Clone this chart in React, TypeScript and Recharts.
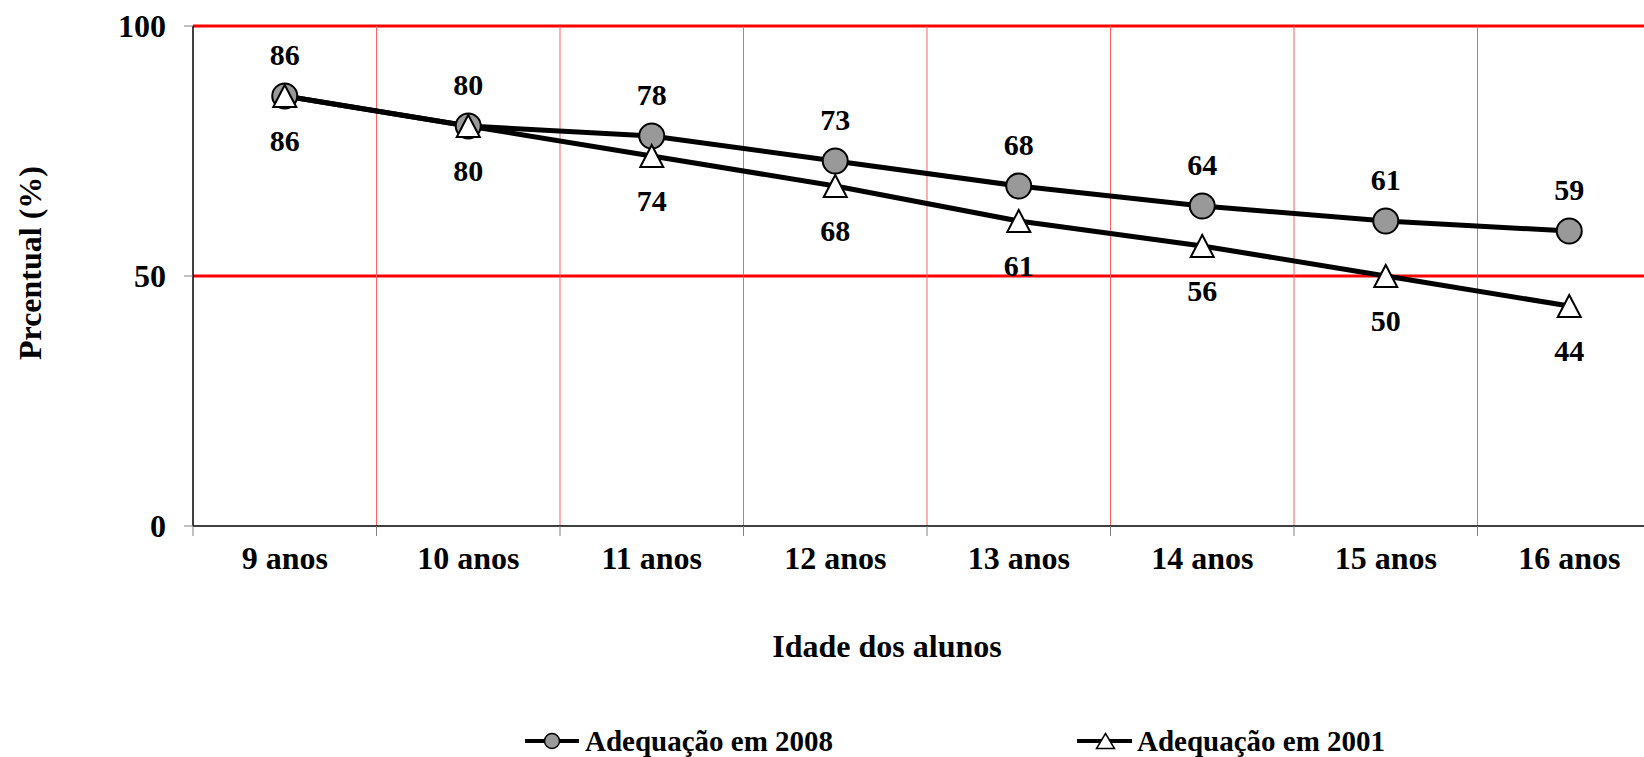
import { LineChart, Line, XAxis, YAxis, CartesianGrid, LabelList, Legend } from 'recharts';

const categories = ['9 anos', '10 anos', '11 anos', '12 anos', '13 anos', '14 anos', '15 anos', '16 anos'];
const adequacao2008 = [86, 80, 78, 73, 68, 64, 61, 59];
const adequacao2001 = [86, 80, 74, 68, 61, 56, 50, 44];
const yTicks = [0, 50, 100];

// each category sits in the middle of its band: 0.5, 1.5, ...
const data = categories.map((name, i) => ({
  name,
  pos: i + 0.5,
  a2008: adequacao2008[i],
  a2001: adequacao2001[i],
}));
const centerTicks = categories.map((_, i) => i + 0.5);
const boundaryTicks = [...categories.map((_, i) => i), categories.length];
const innerBoundaries = boundaryTicks.slice(1, -1);

const FONT = '"Liberation Serif", "Times New Roman", serif';
const textProps = { fontFamily: FONT, fontWeight: 'bold', fontSize: 32, fill: '#000' };
const valueLabelProps = { fontFamily: FONT, fontWeight: 'bold', fontSize: 30, fill: '#000' };

const TriangleDot = (props: any) => {
  const { cx, cy, index } = props;
  if (cx == null || cy == null) return <g key={`t-${index}`} />;
  return (
    <polygon
      key={`t-${index}`}
      points={`${cx},${cy - 11} ${cx + 11.5},${cy + 11} ${cx - 11.5},${cy + 11}`}
      fill="#ffffff"
      stroke="#000000"
      strokeWidth={2}
    />
  );
};

const CategoryTick = (props: any) => {
  const { x, y, payload } = props;
  return (
    <text x={x} y={y + 42} textAnchor="middle" {...textProps}>
      {categories[Math.floor(payload.value)]}
    </text>
  );
};

const NoTickText = () => <g />;

// red grid: heavy horizontal lines, thin vertical band separators
const hLine = (p: any) => (
  <line key={p.key ?? `h-${p.index}`} x1={p.x1} y1={p.y1} x2={p.x2} y2={p.y2} stroke="#ff0000" strokeWidth={3} />
);
const vLine = (p: any) => (
  <line key={p.key ?? `v-${p.index}`} x1={p.x1} y1={p.y1} x2={p.x2} y2={p.y2} stroke="#ff6060" strokeWidth={1} />
);

// values above the 2008 points, below the 2001 points
const labelAbove = (props: any) => (
  <text x={props.x} y={props.y - 31} textAnchor="middle" {...valueLabelProps}>
    {props.value}
  </text>
);
const labelBelow = (props: any) => (
  <text x={props.x} y={props.y + 55} textAnchor="middle" {...valueLabelProps}>
    {props.value}
  </text>
);

const LegendContent = () => (
  <div
    style={{
      display: 'flex',
      alignItems: 'center',
      fontFamily: FONT,
      fontWeight: 'bold',
      fontSize: 29,
      lineHeight: '36px',
      color: '#000',
    }}
  >
    <div style={{ display: 'flex', alignItems: 'center', width: 552 }}>
      <svg width={54} height={20}>
        <line x1={0} y1={10} x2={54} y2={10} stroke="#000" strokeWidth={4} />
        <circle cx={27} cy={10} r={7.5} fill="#999999" stroke="#000" strokeWidth={1.5} />
      </svg>
      <span style={{ marginLeft: 6, whiteSpace: 'nowrap' }}>Adequação em 2008</span>
    </div>
    <div style={{ display: 'flex', alignItems: 'center' }}>
      <svg width={55} height={20}>
        <line x1={0} y1={10} x2={55} y2={10} stroke="#000" strokeWidth={4} />
        <polygon points="28.5,2.5 37.5,17.5 19.5,17.5" fill="#fff" stroke="#000" strokeWidth={1.5} />
      </svg>
      <span style={{ marginLeft: 5, whiteSpace: 'nowrap' }}>Adequação em 2001</span>
    </div>
  </div>
);

export default function App() {
  return (
    <div style={{ position: 'fixed', left: 0, top: 0, width: 1644, height: 757, overflow: 'hidden', background: '#fff' }}>
      <LineChart
        width={1670}
        height={757}
        data={data}
        margin={{ top: 26, right: 9, left: 0, bottom: 0 }}
      >
        <CartesianGrid
          horizontalValues={[50, 100]}
          verticalValues={innerBoundaries}
          horizontal={hLine}
          vertical={vLine}
        />
        {/* category names, centred in each band */}
        <XAxis
          xAxisId="labels"
          dataKey="pos"
          type="number"
          domain={[0, categories.length]}
          ticks={centerTicks}
          tick={<CategoryTick />}
          tickLine={false}
          axisLine={false}
          tickSize={0}
          tickMargin={0}
          interval={0}
          height={194}
          label={(props: any) => {
            const vb = props.viewBox;
            return (
              <text x={vb.x + vb.width / 2 - 40} y={vb.y + 130} textAnchor="middle" {...textProps}>
                Idade dos alunos
              </text>
            );
          }}
        />
        {/* axis line with tick marks on the band edges */}
        <XAxis
          dataKey="pos"
          type="number"
          domain={[0, categories.length]}
          ticks={boundaryTicks}
          tick={<NoTickText />}
          tickSize={10}
          tickLine={{ stroke: '#808080', strokeWidth: 1 }}
          axisLine={{ stroke: '#000', strokeWidth: 1.5 }}
          interval={0}
          height={1}
        />
        <YAxis
          domain={[0, 100]}
          ticks={yTicks}
          width={193}
          tick={textProps}
          tickSize={9}
          tickMargin={18}
          tickLine={{ stroke: '#808080', strokeWidth: 1 }}
          axisLine={{ stroke: '#000', strokeWidth: 1.5 }}
          label={(props: any) => {
            const vb = props.viewBox;
            const x = vb.x + 41;
            const y = vb.y + vb.height / 2 - 13;
            return (
              <text x={x} y={y} transform={`rotate(-90 ${x} ${y})`} textAnchor="middle" {...textProps}>
                Prcentual (%)
              </text>
            );
          }}
        />
        <Legend
          verticalAlign="bottom"
          height={40}
          content={<LegendContent />}
          wrapperStyle={{ left: 525, top: 723, bottom: 'auto', width: 1000, height: 36 }}
        />
        <Line
          dataKey="a2008"
          name="Adequação em 2008"
          stroke="#000"
          strokeWidth={5}
          dot={{ r: 12.5, fill: '#999999', stroke: '#000', strokeWidth: 2 }}
          isAnimationActive={false}
        >
          <LabelList dataKey="a2008" content={labelAbove} />
        </Line>
        <Line
          dataKey="a2001"
          name="Adequação em 2001"
          stroke="#000"
          strokeWidth={5}
          dot={TriangleDot}
          isAnimationActive={false}
        >
          <LabelList dataKey="a2001" content={labelBelow} />
        </Line>
      </LineChart>
    </div>
  );
}
